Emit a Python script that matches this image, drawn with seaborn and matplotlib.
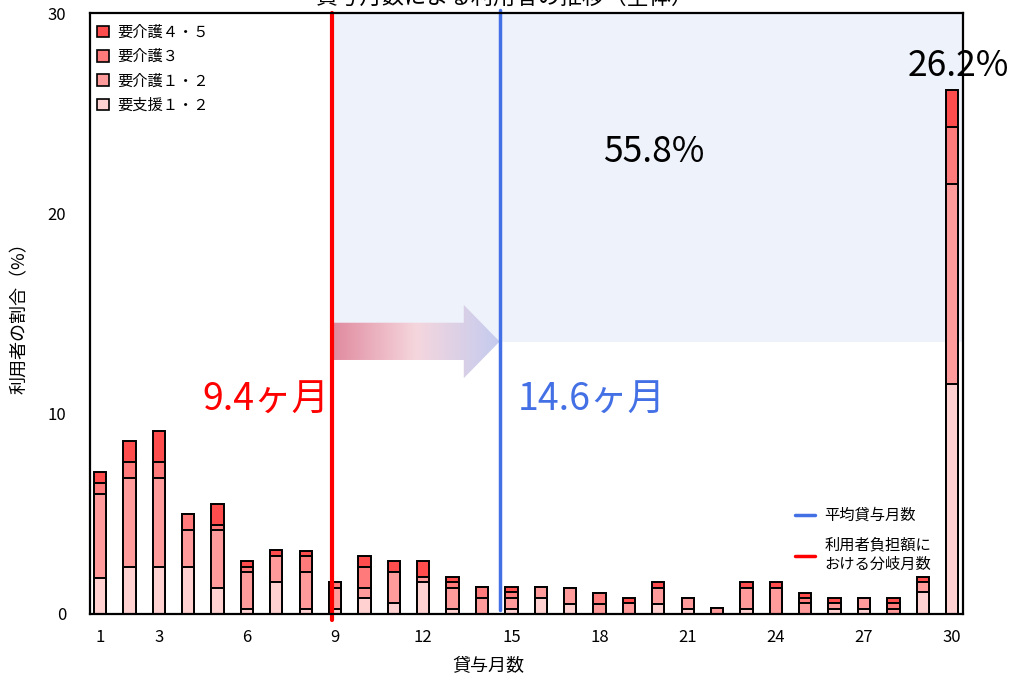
import numpy as np
import pandas as pd
import matplotlib
matplotlib.use("Agg")
import matplotlib.pyplot as plt
import seaborn as sns
from matplotlib.colors import LinearSegmentedColormap
from matplotlib.patches import Polygon, Patch
from matplotlib.lines import Line2D

# ---- datos (% de usuarios por meses de prestamo) ----
MONTHS = list(range(1, 31))
SHIEN12 = [1.8, 2.35, 2.35, 2.35, 1.3, 0.25, 1.6, 0.25, 0.25, 0.78,
           0.53, 1.58, 0.25, 0.0, 0.25, 0.78, 0.5, 0.0, 0.0, 0.5,
           0.25, 0.0, 0.25, 0.0, 0.0, 0.25, 0.25, 0.0, 1.08, 11.5]
KAIGO12 = [4.2, 4.45, 4.45, 1.85, 2.9, 1.85, 1.3, 1.85, 1.05, 0.52,
           1.55, 0.25, 1.05, 0.78, 0.53, 0.55, 0.8, 0.5, 0.53, 0.8,
           0.53, 0.28, 1.05, 1.3, 0.53, 0.28, 0.53, 0.25, 0.5, 9.95]
KAIGO3 = [0.55, 0.8, 0.8, 0.8, 0.25, 0.25, 0.0, 0.78, 0.28, 1.06,
          0.0, 0.0, 0.28, 0.55, 0.3, 0.0, 0.0, 0.55, 0.0, 0.0,
          0.0, 0.0, 0.0, 0.0, 0.25, 0.0, 0.0, 0.28, 0.0, 2.85]
KAIGO45 = [0.55, 1.05, 1.55, 0.0, 1.05, 0.3, 0.27, 0.27, 0.0, 0.55,
           0.55, 0.8, 0.28, 0.0, 0.25, 0.0, 0.0, 0.0, 0.25, 0.28,
           0.0, 0.0, 0.28, 0.28, 0.28, 0.25, 0.0, 0.25, 0.28, 1.85]

LEVELS = ["要介護４・５", "要介護３", "要介護１・２", "要支援１・２"]
COLORS = ["#FF4D4D", "#FF7B7B", "#FF9B9B", "#FFD1D1"]
XTICKS = [1, 3, 6, 9, 12, 15, 18, 21, 24, 27, 30]

AVG_MONTHS = 14.6        # linea azul
BRANCH_X = 8.9           # linea roja (etiqueta 9.4ヶ月)
SHADE_Y = 13.6
BLUE = "#4470E6"

sns.set_theme(style="white")
plt.rcParams["font.family"] = ["Noto Sans CJK JP", "DejaVu Sans"]
plt.rcParams.update({"text.color": "black", "axes.labelcolor": "black",
                     "xtick.color": "black", "ytick.color": "black"})

df = pd.DataFrame({"month": MONTHS, "s12": SHIEN12, "k12": KAIGO12,
                   "k3": KAIGO3, "k45": KAIGO45})
df["c1"] = df["s12"]
df["c2"] = df["c1"] + df["k12"]
df["c3"] = df["c2"] + df["k3"]
df["c4"] = df["c3"] + df["k45"]

fig = plt.figure(figsize=(10.09, 6.8), dpi=100)
ax = fig.add_axes([90 / 1009, 66 / 680, 873 / 1009, 601 / 680])
x0, x1 = 0.66, 30.37

# zona sombreada (despues del punto de quiebre)
ax.fill_between([BRANCH_X + 0.05, x1], SHADE_Y, 30, color="#EEF2FB", lw=0, zorder=0)

# barras apiladas: se dibuja el acumulado de arriba hacia abajo
for col, c in zip(["c4", "c3", "c2", "c1"], COLORS):
    sns.barplot(data=df, x="month", y=col, native_scale=True, width=0.42,
                color=c, saturation=1, edgecolor="black", linewidth=1.4,
                errorbar=None, ax=ax, zorder=3)

# flecha con degradado
shaft_top, shaft_bot = 14.54, 12.68
head_top, head_bot, head_x = 15.43, 11.77, 13.38
arrow = Polygon([(BRANCH_X + 0.05, shaft_bot), (head_x, shaft_bot), (head_x, head_bot),
                 (AVG_MONTHS, SHADE_Y), (head_x, head_top), (head_x, shaft_top),
                 (BRANCH_X + 0.05, shaft_top)], closed=True, fc="none", ec="none")
ax.add_patch(arrow)
cmap = LinearSegmentedColormap.from_list("arr", ["#E08A9E", "#F5D6DD", "#C4CBEF"])
grad = ax.imshow(np.linspace(0, 1, 256).reshape(1, -1), cmap=cmap, aspect="auto",
                 extent=[BRANCH_X, AVG_MONTHS, head_bot, head_top], zorder=2)
grad.set_clip_path(arrow)

# lineas verticales
ax.plot([BRANCH_X, BRANCH_X], [-0.3, 30], color="red", lw=3, clip_on=False, zorder=4)
ax.plot([AVG_MONTHS, AVG_MONTHS], [0.2, 30.15], color=BLUE, lw=2.5, clip_on=False, zorder=4)

# textos
ax.text(19.86, 23.07, "55.8%", ha="center", va="center", fontsize=25.5, zorder=5)
ax.text(30.2, 27.36, "26.2%", ha="center", va="center", fontsize=25.5, zorder=5, clip_on=False)
ax.text(8.8, 10.68, "9.4ヶ月", ha="right", va="center", fontsize=27, color="red", zorder=5)
ax.text(15.23, 10.68, "14.6ヶ月", ha="left", va="center", fontsize=27, color=BLUE, zorder=5)

ax.set_xlim(x0, x1)
ax.set_ylim(0, 30)
ax.set_xticks(XTICKS)
ax.set_xticklabels([str(t) for t in XTICKS])
ax.set_yticks([0, 10, 20, 30])
ax.tick_params(axis="x", length=0, pad=11, labelsize=12)
ax.tick_params(axis="y", length=0, pad=17, labelsize=12)
ax.set_xlabel("貸与月数", fontsize=13)
ax.set_ylabel("利用者の割合（%）", fontsize=13)
ax.xaxis.set_label_coords(0.456, -0.072)
ax.yaxis.set_label_coords(-0.07, 0.5)
for sp in ax.spines.values():
    sp.set_color("black")
    sp.set_linewidth(1.6)
    sp.set_zorder(6)

# leyendas
h1 = [Patch(facecolor=c, edgecolor="black", lw=1.2) for c in COLORS]
leg1 = ax.legend(h1, LEVELS, loc="upper left", bbox_to_anchor=(-0.004, 1.0),
                 frameon=False, fontsize=11, handlelength=0.8, handleheight=0.8,
                 handletextpad=0.5, labelspacing=0.48, borderaxespad=0.3)
ax.add_artist(leg1)
h2 = [Line2D([], [], color=BLUE, lw=2.5), Line2D([], [], color="red", lw=2.5)]
ax.legend(h2, ["平均貸与月数", "利用者負担額に\nおける分岐月数"], loc="upper left",
          bbox_to_anchor=(0.801, 0.188), frameon=False, fontsize=11,
          handlelength=1.3, handletextpad=0.6, labelspacing=0.8, borderaxespad=0)

# titulo (cortado en el borde superior como en la imagen original)
fig.text(0.5, 1 - 4 / 680, "貸与月数による利用者の推移（全体）", ha="center",
         va="baseline", fontsize=16)

fig.savefig("out.png", dpi=100)
